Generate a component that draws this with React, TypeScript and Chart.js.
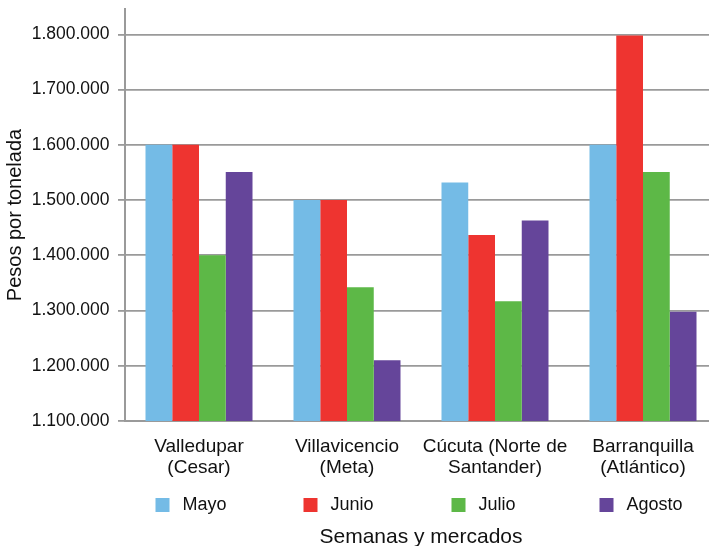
import { useEffect, useRef } from "react";
import { Chart, registerables } from "chart.js";

Chart.register(...registerables);

const mercados = [
  ["Valledupar", "(Cesar)"],
  ["Villavicencio", "(Meta)"],
  ["Cúcuta (Norte de", "Santander)"],
  ["Barranquilla", "(Atlántico)"],
];
const meses = ["Mayo", "Junio", "Julio", "Agosto"];
const mayo = [1600000, 1500000, 1532000, 1600000];
const junio = [1600000, 1500000, 1437000, 1798000];
const julio = [1400000, 1342000, 1317000, 1551000];
const agosto = [1551000, 1210000, 1463000, 1298000];
const colores = ["#74bbe6", "#ee3430", "#5db847", "#65459a"];
const yTicks = [1100000, 1200000, 1300000, 1400000, 1500000, 1600000, 1700000, 1800000];

const FONT = "'Liberation Sans', Arial, sans-serif";
const fmt = (v: number) => String(Math.round(v)).replace(/\B(?=(\d{3})+(?!\d))/g, ".");

// legend spread one item per category, like the original
const legendPlugin = {
  id: "fixedLegend",
  afterDraw(chart: any) {
    const { ctx } = chart;
    const x = chart.scales.x;
    const y0 = chart.chartArea.bottom + 77;
    ctx.save();
    ctx.font = `18px ${FONT}`;
    ctx.textBaseline = "middle";
    chart.data.datasets.forEach((ds: any, i: number) => {
      const left = x.getPixelForValue(i) - 43.5;
      ctx.fillStyle = ds.backgroundColor;
      ctx.fillRect(left, y0, 14, 14);
      ctx.fillStyle = "#111";
      ctx.fillText(ds.label, left + 27, y0 + 7);
    });
    ctx.restore();
  },
};

const App = () => {
  const canvasRef = useRef<HTMLCanvasElement>(null);

  useEffect(() => {
    document.body.style.margin = "0";
    if (!canvasRef.current) return;
    const series = [mayo, junio, julio, agosto];
    const chart = new Chart(canvasRef.current, {
      type: "bar",
      data: {
        labels: mercados,
        datasets: meses.map((m, i) => ({
          label: m,
          data: series[i],
          backgroundColor: colores[i],
          borderWidth: 0,
          categoryPercentage: 0.723,
          barPercentage: 1,
        })),
      },
      options: {
        animation: false,
        responsive: true,
        maintainAspectRatio: false,
        layout: { padding: { top: 9, left: 0, right: 0, bottom: 0 } },
        plugins: {
          legend: { display: false },
          tooltip: { enabled: false },
        },
        scales: {
          x: {
            grid: { display: false, drawTicks: false },
            border: { color: "#9a9a9a", width: 2 },
            ticks: {
              color: "#111",
              font: { family: FONT, size: 19, lineHeight: 1.13 },
              padding: 15,
              maxRotation: 0,
              autoSkip: false,
            },
            title: {
              display: true,
              text: "Semanas y mercados",
              color: "#111",
              font: { family: FONT, size: 21, lineHeight: 0.82 },
              padding: { top: 0, bottom: 0 },
            },
            afterFit: (s: any) => {
              s.height = 125;
            },
          },
          y: {
            min: 1100000,
            max: 1846000,
            grid: { color: "#9a9a9a", lineWidth: 1.8, tickLength: 7 },
            border: { color: "#9a9a9a", width: 2 },
            afterBuildTicks: (s: any) => {
              s.ticks = yTicks.map((v) => ({ value: v }));
            },
            ticks: {
              color: "#111",
              font: { family: FONT, size: 17.5, lineHeight: 1 },
              padding: 8.5,
              callback: (v: any) => fmt(Number(v)),
            },
            title: {
              display: true,
              text: "Pesos por tonelada",
              color: "#111",
              font: { family: FONT, size: 20 },
              padding: { top: 3, bottom: 0 },
            },
            afterFit: (s: any) => {
              s.width = 125;
              s.paddingTop = 0;
              s.paddingBottom = 0;
            },
          },
        },
      },
      plugins: [legendPlugin],
    });
    return () => {
      chart.destroy();
    };
  }, []);

  return (
    <div style={{ width: 709, height: 546, overflow: "hidden", position: "relative", background: "#fff" }}>
      <div style={{ position: "absolute", left: 0, top: 0, width: 717, height: 546 }}>
        <canvas ref={canvasRef} />
      </div>
    </div>
  );
};

export default App;
